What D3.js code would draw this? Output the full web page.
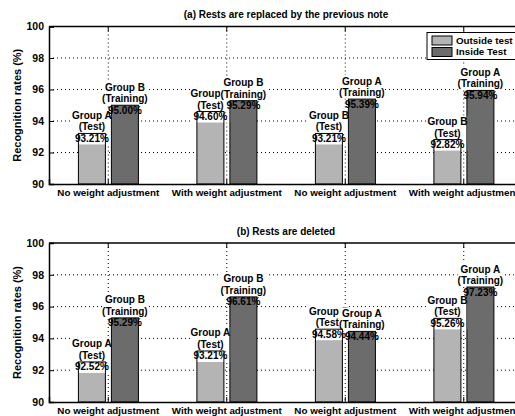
<!DOCTYPE html>
<html>
<head>
<meta charset="utf-8">
<script src="https://cdn.jsdelivr.net/npm/d3@7"></script>
<style>
  html, body { margin: 0; padding: 0; background: #fff; }
  svg { display: block; font-family: "Liberation Sans", Arial, sans-serif; }
</style>
</head>
<body>
<svg id="chart" width="515" height="416"></svg>
<script>
// Category labels under each group of bars
const categories = ["No weight adjustment", "With weight adjustment", "No weight adjustment", "With weight adjustment"];
const seriesNames = ["Outside test", "Inside Test"];
const panelTitles = ["(a) Rests are replaced by the previous note", "(b) Rests are deleted"];
const yTicks = [90, 92, 94, 96, 98, 100];

// Panel (a): rests replaced by the previous note
const outsideA = [93.21, 94.60, 93.21, 92.82];
const insideA = [95.00, 95.29, 95.39, 95.94];
const outsideGroupA = ["Group A", "Group A", "Group B", "Group B"];
const insideGroupA = ["Group B", "Group B", "Group A", "Group A"];

// Panel (b): rests deleted
const outsideB = [92.52, 93.21, 94.58, 95.26];
const insideB = [95.29, 96.61, 94.44, 97.23];
const outsideGroupB = ["Group A", "Group A", "Group B", "Group B"];
const insideGroupB = ["Group B", "Group B", "Group A", "Group A"];

const roles = ["(Test)", "(Training)"];
const colors = ["#b4b4b4", "#6c6c6c"];

const svg = d3.select("#chart");
const left = 49, right = 523;
const fs = 9.8;

const panels = [
  { title: panelTitles[0], top: 26.5, bottom: 184, series: [outsideA, insideA], groups: [outsideGroupA, insideGroupA], legend: true },
  { title: panelTitles[1], top: 243, bottom: 402, series: [outsideB, insideB], groups: [outsideGroupB, insideGroupB], legend: false }
];

const x = d3.scaleBand().domain(d3.range(categories.length)).range([left, right]).padding(0);
const xs = d3.scaleBand().domain([0, 1]).range([29.4, 89.4]).paddingInner(0.182).paddingOuter(0);

panels.forEach(p => {
  const g = svg.append("g");
  const y = d3.scaleLinear().domain([90, 100]).range([p.bottom, p.top]);

  // dotted grid
  g.append("g").selectAll("line.h").data(yTicks.slice(1, -1)).join("line")
    .attr("x1", left).attr("x2", right)
    .attr("y1", d => y(d)).attr("y2", d => y(d))
    .attr("stroke", "#000").attr("stroke-width", 1).attr("stroke-dasharray", "1,3");
  g.append("g").selectAll("line.v").data(d3.range(categories.length)).join("line")
    .attr("x1", d => x(d) + x.bandwidth() / 2).attr("x2", d => x(d) + x.bandwidth() / 2)
    .attr("y1", p.top).attr("y2", p.bottom)
    .attr("stroke", "#000").attr("stroke-width", 1).attr("stroke-dasharray", "1,3");

  // bars
  const bars = [];
  p.series.forEach((vals, s) => {
    vals.forEach((v, i) => bars.push({ s, i, v, group: p.groups[s][i] }));
  });
  const bx = d => x(d.i) + xs(d.s);
  g.append("g").selectAll("rect").data(bars).join("rect")
    .attr("x", bx).attr("width", xs.bandwidth())
    .attr("y", d => y(d.v)).attr("height", d => y(90) - y(d.v))
    .attr("fill", d => colors[d.s]);

  // value labels: group, role, value
  const lineH = 11.5;
  const lab = g.append("g").selectAll("g").data(bars).join("g")
    .attr("transform", d => `translate(${bx(d) + xs.bandwidth() / 2},${y(d.v) + 5})`);
  lab.each(function(d) {
    const el = d3.select(this);
    const lines = [d.group, roles[d.s], d.v.toFixed(2) + "%"];
    const bgN = d.s === 0 ? 3 : 2;
    const bgRect = el.append("rect").attr("fill", "#fff");
    const texts = lines.map((t, k) => el.append("text")
      .attr("y", (k - 2) * lineH).attr("dy", "0.35em")
      .attr("text-anchor", "middle").attr("font-size", 10).attr("font-weight", "bold")
      .attr("fill", "#000").text(t));
    let x0 = Infinity, x1 = -Infinity;
    texts.slice(0, bgN).forEach(t => { const b = t.node().getBBox(); x0 = Math.min(x0, b.x); x1 = Math.max(x1, b.x + b.width); });
    bgRect.attr("x", x0).attr("width", x1 - x0)
      .attr("y", -2 * lineH - 6).attr("height", (bgN) * lineH + 0.5);
  });

  // bar outlines on top
  g.append("g").selectAll("rect").data(bars).join("rect")
    .attr("x", bx).attr("width", xs.bandwidth())
    .attr("y", d => y(d.v)).attr("height", d => y(90) - y(d.v))
    .attr("fill", "none").attr("stroke", "#000").attr("stroke-width", 1);
  // keep label text above outlines
  lab.raise();

  // axes
  const ya = d3.axisLeft(y).tickValues(yTicks).tickSize(-5).tickPadding(5).tickFormat(d3.format("d"));
  const yg = g.append("g").attr("transform", `translate(${left},0)`).call(ya);
  yg.selectAll("text").attr("font-size", 10.5).attr("font-weight", "bold").attr("fill", "#000")
    .attr("x", -5);
  yg.select(".domain").attr("stroke-width", 1.5);

  const xa = d3.axisBottom(x).tickSize(-5).tickPadding(5).tickFormat(i => categories[i]);
  const xg = g.append("g").attr("transform", `translate(0,${p.bottom})`).call(xa);
  xg.selectAll("text").attr("font-size", fs).attr("font-weight", "bold").attr("fill", "#000");
  xg.select(".domain").attr("stroke-width", 1.5);

  // top frame with mirrored ticks
  g.append("line").attr("x1", left).attr("x2", right).attr("y1", p.top).attr("y2", p.top)
    .attr("stroke", "#000").attr("stroke-width", 1.5);
  g.append("g").selectAll("line").data(d3.range(categories.length)).join("line")
    .attr("x1", d => x(d) + x.bandwidth() / 2).attr("x2", d => x(d) + x.bandwidth() / 2)
    .attr("y1", p.top).attr("y2", p.top + 5).attr("stroke", "#000");

  // y axis title
  g.append("text")
    .attr("transform", `translate(21,${(p.top + p.bottom) / 2}) rotate(-90)`)
    .attr("text-anchor", "middle").attr("font-size", 11).attr("font-weight", "bold")
    .text("Recognition rates (%)");

  // panel title
  g.append("text")
    .attr("x", (left + right) / 2).attr("y", p.top - 8.5)
    .attr("text-anchor", "middle").attr("font-size", 10).attr("font-weight", "bold")
    .text(p.title);

  if (p.legend) {
    const lg = g.append("g").attr("transform", `translate(427,${p.top + 6})`);
    lg.append("rect").attr("x", 0).attr("y", 0).attr("width", 100).attr("height", 27)
      .attr("fill", "#fff").attr("stroke", "#000").attr("stroke-width", 1);
    seriesNames.forEach((n, k) => {
      lg.append("rect").attr("x", 5).attr("y", 3.5 + k * 11.5).attr("width", 20).attr("height", 9)
        .attr("fill", colors[k]).attr("stroke", "#000").attr("stroke-width", 1);
      lg.append("text").attr("x", 29).attr("y", 8 + k * 11.5).attr("dy", "0.35em")
        .attr("font-size", 9.8).attr("font-weight", "bold").text(n);
    });
  }
});
</script>
</body>
</html>
